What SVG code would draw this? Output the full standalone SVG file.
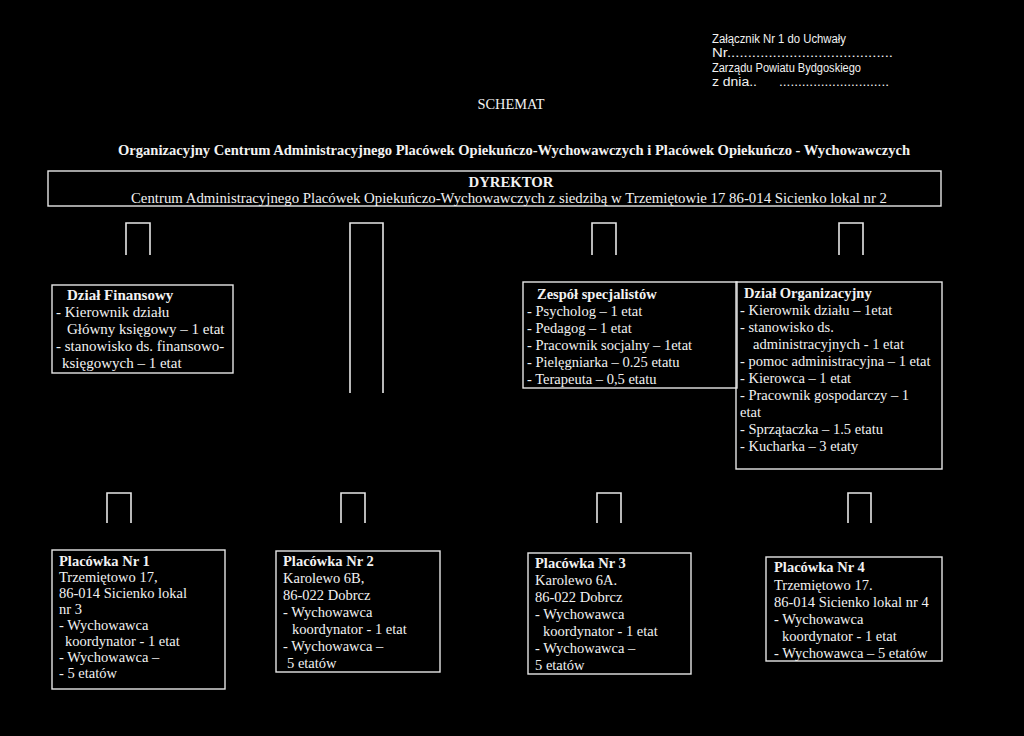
<svg xmlns="http://www.w3.org/2000/svg" width="1024" height="736" viewBox="0 0 1024 736">
<style>
.t{font-family:"Liberation Serif","Times New Roman",serif;font-size:14.5px;fill:#f2f2f2}
.f{font-size:15px}
.b{font-weight:bold}
.s{font-family:"Liberation Sans",Arial,sans-serif;font-size:12px;fill:#f2f2f2}
.box{fill:none;stroke:#e6e6e6;stroke-width:1.4}
.con{fill:none;stroke:#e6e6e6;stroke-width:1.6}
</style>
<rect width="1024" height="736" fill="#000"/>
<g id="header">
<text class="s" x="712" y="43" textLength="134" lengthAdjust="spacingAndGlyphs">Załącznik Nr 1 do Uchwały</text>
<text class="s" x="712" y="57" textLength="181" lengthAdjust="spacingAndGlyphs">Nr........................................</text>
<text class="s" x="712" y="72" textLength="149" lengthAdjust="spacingAndGlyphs">Zarządu Powiatu Bydgoskiego</text>
<text class="s" x="712" y="86" textLength="45" lengthAdjust="spacingAndGlyphs">z dnia..</text>
<text class="s" x="779" y="86" textLength="110" lengthAdjust="spacingAndGlyphs">.............................</text>
<text class="t" x="511" y="109" font-size="17" text-anchor="middle" textLength="67" lengthAdjust="spacingAndGlyphs">SCHEMAT</text>
<text class="t b" x="514" y="155" font-size="16" text-anchor="middle" textLength="792" lengthAdjust="spacingAndGlyphs">Organizacyjny Centrum Administracyjnego Placówek Opiekuńczo-Wychowawczych i Placówek Opiekuńczo - Wychowawczych</text>
</g>
<g id="dyrektor">
<rect class="box" x="48" y="171" width="893" height="35"/>
<text class="t b" x="511" y="187" font-size="15" text-anchor="middle" textLength="85" lengthAdjust="spacingAndGlyphs">DYREKTOR</text>
<text class="t" x="509" y="203" font-size="15" text-anchor="middle" textLength="756" lengthAdjust="spacingAndGlyphs">Centrum Administracyjnego Placówek Opiekuńczo-Wychowawczych z siedzibą w Trzemiętowie 17 86-014 Sicienko lokal nr 2</text>
</g>
<g id="connectors">
<path class="con" d="M126 255V223H150V255"/>
<path class="con" d="M350 393V223H383V393"/>
<path class="con" d="M592 255V223H616V255"/>
<path class="con" d="M839 255V223H863V255"/>
<path class="con" d="M107 523V493H131V523"/>
<path class="con" d="M341 523V493H365V523"/>
<path class="con" d="M597 523V493H621V523"/>
<path class="con" d="M848 523V493H871V523"/>
</g>
<g id="dzial-finansowy">
<rect class="box" x="52" y="285" width="181" height="88"/>
<text class="t f b" x="67" y="300">Dział Finansowy</text>
<text class="t f" x="56" y="317">- Kierownik działu</text>
<text class="t f" x="67" y="334">Główny księgowy – 1 etat</text>
<text class="t f" x="56" y="351">- stanowisko ds. finansowo-</text>
<text class="t f" x="62" y="368">księgowych – 1 etat</text>
</g>
<g id="zespol-specjalistow">
<rect class="box" x="523" y="282" width="214" height="106"/>
<text class="t b" x="537" y="299">Zespół specjalistów</text>
<text class="t" x="527" y="316">- Psycholog – 1 etat</text>
<text class="t" x="527" y="333">- Pedagog – 1 etat</text>
<text class="t" x="527" y="350">- Pracownik socjalny – 1etat</text>
<text class="t" x="527" y="367">- Pielęgniarka – 0.25 etatu</text>
<text class="t" x="527" y="384">- Terapeuta – 0,5 etatu</text>
</g>
<g id="dzial-organizacyjny">
<rect class="box" x="736" y="282" width="206" height="187"/>
<text class="t b" x="744" y="298">Dział Organizacyjny</text>
<text class="t" x="740" y="315">- Kierownik działu – 1etat</text>
<text class="t" x="740" y="332">- stanowisko ds.</text>
<text class="t" x="753" y="349">administracyjnych - 1 etat</text>
<text class="t" x="740" y="366">- pomoc administracyjna – 1 etat</text>
<text class="t" x="740" y="383">- Kierowca – 1 etat</text>
<text class="t" x="740" y="400">- Pracownik gospodarczy – 1</text>
<text class="t" x="740" y="417">etat</text>
<text class="t" x="740" y="434">- Sprzątaczka – 1.5 etatu</text>
<text class="t" x="740" y="451">- Kucharka – 3 etaty</text>
</g>
<g id="placowka-1">
<rect class="box" x="52" y="550" width="173" height="139"/>
<text class="t b" x="59" y="566">Placówka Nr 1</text>
<text class="t" x="59" y="582">Trzemiętowo 17,</text>
<text class="t" x="59" y="598">86-014 Sicienko lokal</text>
<text class="t" x="59" y="614"> nr 3</text>
<text class="t" x="59" y="630">- Wychowawca</text>
<text class="t" x="65" y="646">koordynator - 1 etat</text>
<text class="t" x="59" y="662">- Wychowawca –</text>
<text class="t" x="59" y="678">- 5 etatów</text>
</g>
<g id="placowka-2">
<rect class="box" x="276" y="551" width="164" height="121"/>
<text class="t b" x="283" y="566">Placówka Nr 2</text>
<text class="t" x="283" y="583">Karolewo 6B,</text>
<text class="t" x="283" y="600">86-022 Dobrcz</text>
<text class="t" x="283" y="617">- Wychowawca</text>
<text class="t" x="292" y="634">koordynator - 1 etat</text>
<text class="t" x="283" y="651">- Wychowawca –</text>
<text class="t" x="287" y="668">5 etatów</text>
</g>
<g id="placowka-3">
<rect class="box" x="528" y="553" width="163" height="121"/>
<text class="t b" x="535" y="568">Placówka Nr 3</text>
<text class="t" x="535" y="585">Karolewo 6A.</text>
<text class="t" x="535" y="602">86-022 Dobrcz</text>
<text class="t" x="535" y="619">- Wychowawca</text>
<text class="t" x="543" y="636">koordynator - 1 etat</text>
<text class="t" x="535" y="653">- Wychowawca –</text>
<text class="t" x="535" y="670">5 etatów</text>
</g>
<g id="placowka-4">
<rect class="box" x="766" y="557" width="176" height="104"/>
<text class="t b" x="774" y="572">Placówka Nr 4</text>
<text class="t" x="774" y="590">Trzemiętowo 17.</text>
<text class="t" x="774" y="607">86-014 Sicienko lokal nr 4</text>
<text class="t" x="774" y="624">- Wychowawca</text>
<text class="t" x="782" y="641">koordynator - 1 etat</text>
<text class="t" x="774" y="658">- Wychowawca – 5 etatów</text>
</g>
</svg>
